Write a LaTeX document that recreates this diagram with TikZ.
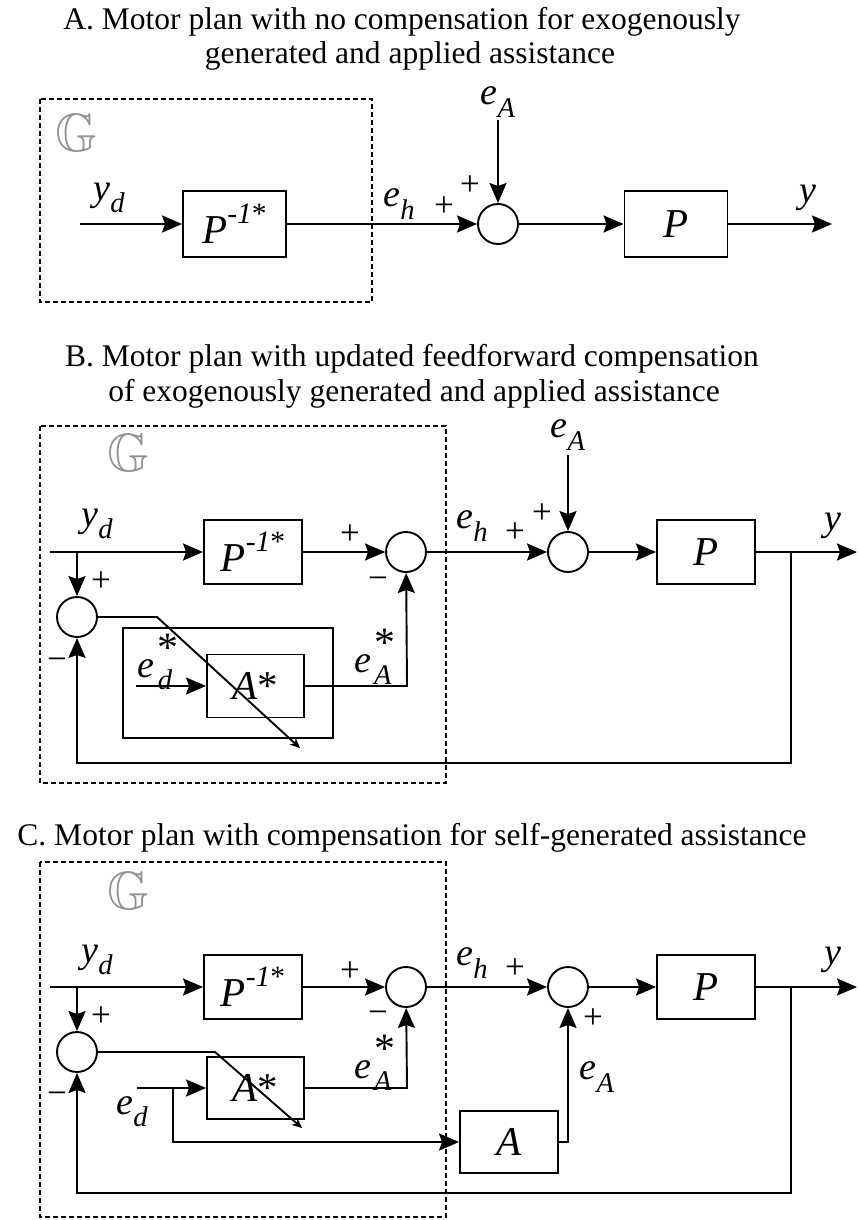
\documentclass[tikz,border=0pt]{standalone}
\usepackage{fontspec}
\setmainfont{Liberation Serif}
\usepackage{amssymb}
\usepackage{graphicx}
\usetikzlibrary{arrows.meta}
\newcommand{\varsub}[2]{\textit{#1}\raisebox{-0.32em}{\scalebox{0.75}{\textit{#2}}}}
\newcommand{\varsubst}[2]{\textit{#1}\kern0.08em\rlap{\raisebox{0.42em}{\scalebox{1.1}{*}}}\raisebox{-0.32em}{\scalebox{0.75}{\textit{#2}}}}
\newcommand{\pinvlab}{\textit{P}\raisebox{0.48em}{\scalebox{0.72}{-\textit{1}*}}}
\tikzset{
  blk/.style={draw, line width=1.9pt, minimum width=98pt, minimum height=64pt, inner sep=0pt, font=\fontsize{41}{44}\selectfont},
  blkA/.style={blk, minimum width=103pt, minimum height=66pt},
  sumc/.style={draw, circle, line width=1.9pt, minimum size=40pt, inner sep=0pt},
  wire/.style={line width=1.9pt},
  arr/.style={wire, -{Stealth[length=20pt,width=17pt,inset=3pt]}},
  adapt/.style={line width=1.9pt, -{Stealth[length=10pt,width=9pt]}},
  lbl/.style={font=\fontsize{38}{40}\selectfont, inner sep=0pt},
  sgn/.style={font=\fontsize{35}{36}\selectfont, inner sep=0pt},
  gbox/.style={line width=1.9pt, dash pattern=on 5pt off 3pt},
  ttl/.style={font=\fontsize{31.5}{36}\selectfont, inner sep=0pt, anchor=base},
  glab/.style={text=gray!85, inner sep=0pt},
}
\newcommand{\Gsym}{\scalebox{5.4}{$\mathbb{G}$}}
\begin{document}
\begin{tikzpicture}[x=1pt,y=-1pt]
\fill[white] (0,0) rectangle (858,1220);
\useasboundingbox (0,0) rectangle (858,1220);

% ---------------- Panel A ----------------
\node[ttl] (tA1) at (402,30) {A. Motor plan with no compensation for exogenously};
\node[ttl] (tA2) at (410,64) {generated and applied assistance};
\draw[gbox] (40,99) rectangle (372,302);
\node[glab] (gA) at (76,133) {\Gsym};
\coordinate (inA) at (80,224);
\node[blkA] (pinvA) at (234.5,224) {\pinvlab};
\node[sumc] (sA) at (498,224) {};
\node[blkA] (pA) at (676,224) {\textit{P}};
\coordinate (outA) at (832,224);
\coordinate (eAinA) at (498,120);
\node[lbl] (ydA) at (109,198) {\varsub{y}{d}};
\node[lbl] (ehA) at (399,204) {\varsub{e}{h}};
\node[lbl] (eAA) at (498,102) {\varsub{e}{A}};
\node[lbl] (yA) at (808,198) {\textit{y}};
\node[sgn] (pA1) at (470,186) {+};
\node[sgn] (pA2) at (444,207) {+};
\draw[arr] (inA) -- (pinvA);
\draw[arr] (pinvA) -- (sA);
\draw[arr] (eAinA) -- (sA);
\draw[arr] (sA) -- (pA);
\draw[arr] (pA) -- (outA);

% ---------------- Panel B ----------------
\node[ttl] (tB1) at (412,366) {B. Motor plan with updated feedforward compensation};
\node[ttl] (tB2) at (414,401) {of exogenously generated and applied assistance};
\draw[gbox] (40,426) rectangle (446,783);
\node[glab] (gB) at (128,453) {\Gsym};
\coordinate (inB) at (50,552);
\coordinate (brB) at (77,552);
\node[blk] (pinvB) at (253,552) {\pinvlab};
\node[sumc] (s2B) at (406,552) {};
\node[sumc] (lcB) at (77,617) {};
\draw[line width=1.9pt] (123,628) rectangle (333,738);
\node[blk, minimum width=97pt, minimum height=63pt] (asB) at (255.5,686) {\textit{A}*};
\coordinate (edB) at (136,686);
\coordinate (aoB) at (407,686);
\coordinate (dgB1) at (157,617);
\coordinate (dgB2) at (300,748);
\node[sumc] (s3B) at (568,552) {};
\coordinate (eAinB) at (568,455);
\node[blk] (pB) at (706,552) {\textit{P}};
\coordinate (outB) at (857,552);
\coordinate (fbB1) at (791,552);
\coordinate (fbB2) at (791,763);
\coordinate (fbB3) at (77,763);
\node[lbl] (ydB) at (97,524) {\varsub{y}{d}};
\node[lbl] (edsB) at (155,662) {\varsubst{e}{d}};
\node[lbl] (eAsB) at (373,657) {\varsubst{e}{A}};
\node[lbl] (ehB) at (472,526) {\varsub{e}{h}};
\node[lbl] (eAB) at (568,435) {\varsub{e}{A}};
\node[lbl] (yB) at (833,526) {\textit{y}};
\node[sgn] (sgB1) at (350,535) {+};
\node[sgn] (sgB2) at (378,583) {−};
\node[sgn] (sgB3) at (101,582) {+};
\node[sgn] (sgB4) at (57,664) {−};
\node[sgn] (sgB5) at (515,533) {+};
\node[sgn] (sgB6) at (542,514) {+};
\draw[arr] (inB) -- (pinvB);
\draw[arr] (brB) -- (lcB);
\draw[arr] (pinvB) -- (s2B);
\draw[arr] (edB) -- (asB);
\draw[arr] (asB) -- (aoB) -- (s2B);
\draw[arr] (s2B) -- (s3B);
\draw[arr] (eAinB) -- (s3B);
\draw[arr] (s3B) -- (pB);
\draw[arr] (pB) -- (outB);
\draw[arr] (fbB1) -- (fbB2) -- (fbB3) -- (lcB);
\draw[adapt] (lcB.east) -- (dgB1) -- (dgB2);

% ---------------- Panel C ----------------
\node[ttl] (tC) at (412,845) {C. Motor plan with compensation for self-generated assistance};
\draw[gbox] (40,862) rectangle (446,1217);
\node[glab] (gC) at (128,891) {\Gsym};
\coordinate (inC) at (50,987);
\coordinate (brC) at (77,987);
\node[blk] (pinvC) at (253,987) {\pinvlab};
\node[sumc] (s2C) at (406,987) {};
\node[sumc] (lcC) at (77,1052) {};
\node[blk, minimum width=97pt, minimum height=62pt] (asC) at (255.5,1088) {\textit{A}*};
\coordinate (edC) at (137,1088);
\coordinate (brE) at (173,1088);
\coordinate (brE2) at (173,1142);
\node[blk, minimum width=98pt, minimum height=62pt] (aC) at (509,1142) {\textit{A}};
\coordinate (aoC) at (407,1088);
\coordinate (aoC2) at (568,1142);
\coordinate (dgC1) at (215,1052);
\coordinate (dgC2) at (302,1128);
\node[sumc] (s3C) at (568,987) {};
\node[blk] (pC) at (706,987) {\textit{P}};
\coordinate (outC) at (857,987);
\coordinate (fbC1) at (791,987);
\coordinate (fbC2) at (791,1193);
\coordinate (fbC3) at (77,1193);
\node[lbl] (ydC) at (97,960) {\varsub{y}{d}};
\node[lbl] (edC2) at (132,1112) {\varsub{e}{d}};
\node[lbl] (eAsC) at (373,1063) {\varsubst{e}{A}};
\node[lbl] (ehC) at (472,963) {\varsub{e}{h}};
\node[lbl] (eAC) at (597,1077) {\varsub{e}{A}};
\node[lbl] (yC) at (833,960) {\textit{y}};
\node[sgn] (sgC1) at (350,972) {+};
\node[sgn] (sgC2) at (378,1017) {−};
\node[sgn] (sgC3) at (101,1017) {+};
\node[sgn] (sgC4) at (57,1098) {−};
\node[sgn] (sgC5) at (515,969) {+};
\node[sgn] (sgC6) at (593,1019) {+};
\draw[arr] (inC) -- (pinvC);
\draw[arr] (brC) -- (lcC);
\draw[arr] (pinvC) -- (s2C);
\draw[arr] (edC) -- (asC);
\draw[arr] (brE) -- (brE2) -- (aC);
\draw[arr] (asC) -- (aoC) -- (s2C);
\draw[arr] (aC) -- (aoC2) -- (s3C);
\draw[arr] (s2C) -- (s3C);
\draw[arr] (s3C) -- (pC);
\draw[arr] (pC) -- (outC);
\draw[arr] (fbC1) -- (fbC2) -- (fbC3) -- (lcC);
\draw[adapt] (lcC.east) -- (dgC1) -- (dgC2);
\end{tikzpicture}
\end{document}
